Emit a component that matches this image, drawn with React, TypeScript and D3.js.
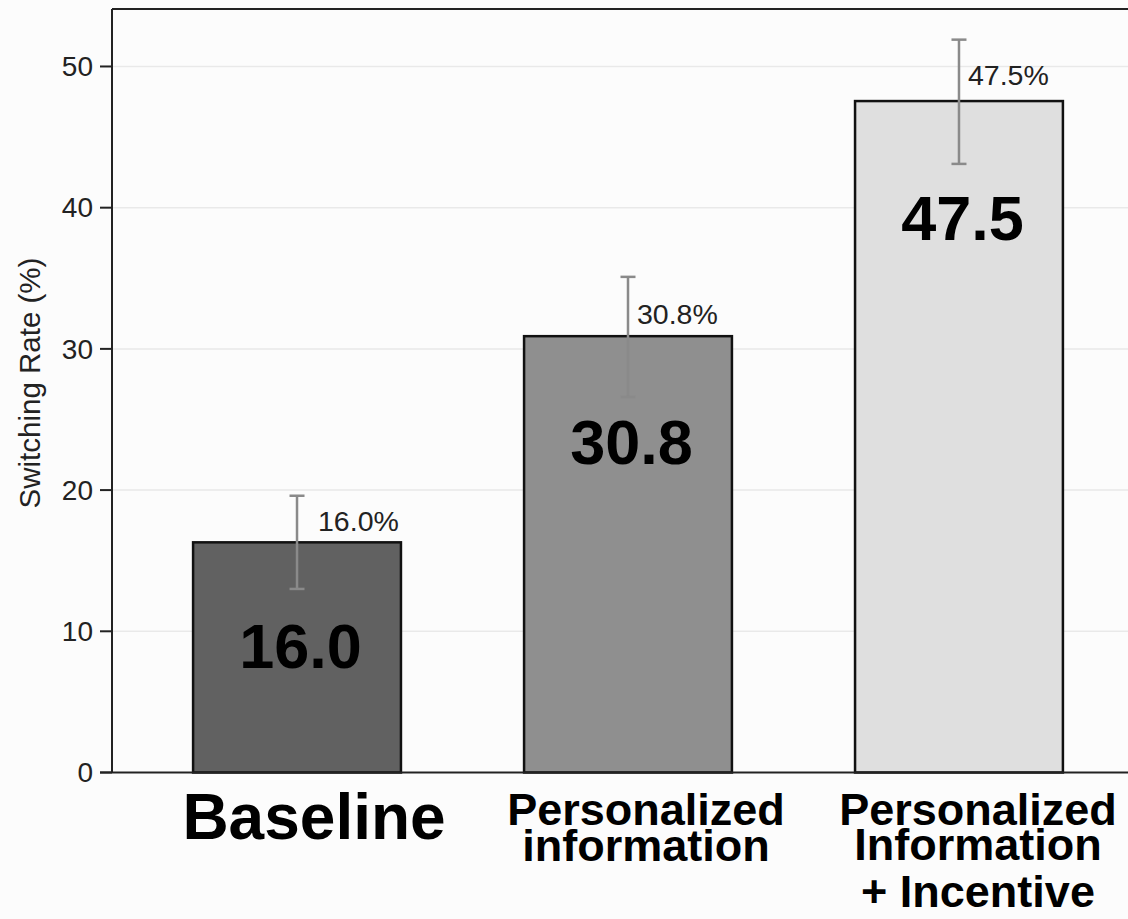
import React from "react";
import * as d3 from "d3";

// ---- data ----
const categories = ["Baseline", "Personalized information", "Personalized Information + Incentive"];
const categoryLines = [["Baseline"], ["Personalized", "information"], ["Personalized", "Information", "+ Incentive"]];
const switchingRates = [16.3, 30.9, 47.55];
const ciLower = [13.0, 26.6, 43.1];
const ciUpper = [19.6, 35.1, 51.9];
const valueLabels = ["16.0%", "30.8%", "47.5%"];
const bigLabels = ["16.0", "30.8", "47.5"];
const yTicks = [0, 10, 20, 30, 40, 50];
const barFills = ["#616161", "#8f8f8f", "#dfdfdf"];

// ---- layout ----
const W = 1128;
const H = 919;
const FONT = "'Liberation Sans', Arial, Helvetica, sans-serif";
const plotLeft = 112;
const plotRight = 1144;
const plotTop = 9;
const plotBottom = 772.5;
const yMax = 54.07;
const valueLabelDx = [21, 9, 9];
const valueLabelDy = [-11, -12, -16];
const bigLabelDy = [126, 128, 139];
const catLabelDx = [17, 18, 19];
const catLabelSize = [64, 45, 45];
const catLineBaselines = [[839], [825, 860.5], [825, 860, 906.5]];

export default function App() {
  const x = d3
    .scaleBand<string>()
    .domain(categories)
    .range([plotLeft, plotRight])
    .paddingInner(0.372)
    .paddingOuter(0.245);
  const y = d3.scaleLinear().domain([0, yMax]).range([plotBottom, plotTop]);
  const bw = x.bandwidth();

  return (
    <div style={{ position: "absolute", left: 0, top: 0 }}>
      <svg width={W} height={H} style={{ display: "block", background: "#fcfcfc" }} fontFamily={FONT}>
        {/* gridlines */}
        {yTicks.filter((t) => t > 0).map((t) => (
          <line key={"g" + t} x1={plotLeft} x2={W} y1={y(t)} y2={y(t)} stroke="#e9e9e9" strokeWidth={1.5} />
        ))}
        {/* frame */}
        <line x1={plotLeft} x2={W} y1={plotTop} y2={plotTop} stroke="#222" strokeWidth={2} />
        <line x1={plotLeft} x2={plotLeft} y1={plotTop} y2={plotBottom} stroke="#222" strokeWidth={2} />
        {/* y ticks */}
        {yTicks.map((t) => (
          <g key={"t" + t}>
            <line x1={plotLeft - 12} x2={plotLeft} y1={y(t)} y2={y(t)} stroke="#222" strokeWidth={2} />
            <text x={plotLeft - 19} y={y(t)} dy="0.35em" textAnchor="end" fontSize={28} fill="#222">
              {t}
            </text>
          </g>
        ))}
        <text
          transform={`translate(40, 383) rotate(-90)`}
          textAnchor="middle"
          fontSize={29.5}
          fill="#222"
        >
          Switching Rate (%)
        </text>
        {/* bars */}
        {categories.map((c, i) => {
          const x0 = x(c)!;
          const cx = x0 + bw / 2;
          return (
            <g key={c}>
              <rect
                x={x0}
                y={y(switchingRates[i])}
                width={bw}
                height={y(0) - y(switchingRates[i])}
                fill={barFills[i]}
                stroke="#111"
                strokeWidth={2.5}
              />
              <line x1={cx} x2={cx} y1={y(ciLower[i])} y2={y(ciUpper[i])} stroke="#8a8a8a" strokeWidth={2.5} />
              <line x1={cx - 7.5} x2={cx + 7.5} y1={y(ciLower[i])} y2={y(ciLower[i])} stroke="#8a8a8a" strokeWidth={2.5} />
              <line x1={cx - 7.5} x2={cx + 7.5} y1={y(ciUpper[i])} y2={y(ciUpper[i])} stroke="#8a8a8a" strokeWidth={2.5} />
              <text x={cx + valueLabelDx[i]} y={y(switchingRates[i]) + valueLabelDy[i]} fontSize={28.5} fill="#222">
                {valueLabels[i]}
              </text>
              <text
                x={cx + 3.5}
                y={y(switchingRates[i]) + bigLabelDy[i]}
                textAnchor="middle"
                fontSize={63}
                fontWeight="bold"
                fill="#000"
              >
                {bigLabels[i]}
              </text>
              <text textAnchor="middle" fontSize={catLabelSize[i]} fontWeight="bold" fill="#000">
                {categoryLines[i].map((ln, j) => (
                  <tspan key={j} x={cx + catLabelDx[i]} y={catLineBaselines[i][j]}>
                    {ln}
                  </tspan>
                ))}
              </text>
            </g>
          );
        })}
        {/* x axis line */}
        <line x1={plotLeft - 12} x2={W} y1={plotBottom} y2={plotBottom} stroke="#222" strokeWidth={2} />
      </svg>
    </div>
  );
}
